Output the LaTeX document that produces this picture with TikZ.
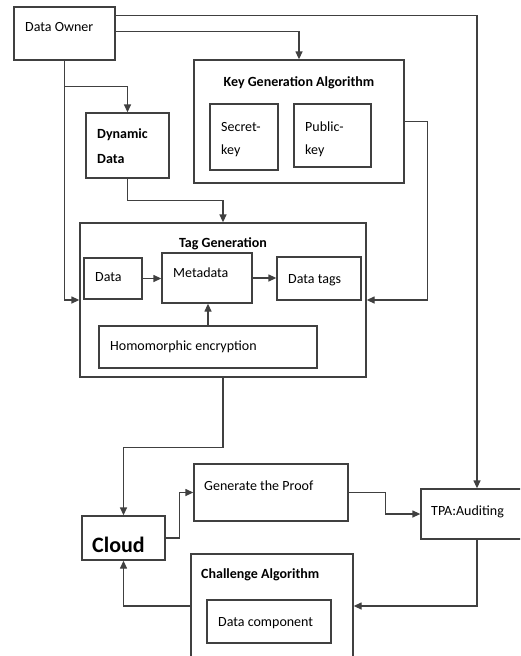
\documentclass[tikz,border=0pt]{standalone}
\usepackage{fontspec}
\setmainfont{Carlito}
\usetikzlibrary{arrows.meta,fit}

\begin{document}
\begin{tikzpicture}[x=1pt, y=-1pt,
    box/.style={draw=black!75, line width=1.3pt, rectangle, inner sep=0pt},
    txt/.style={inner sep=0pt, anchor=base west, font=\fontsize{14}{23}\selectfont},
    ttl/.style={txt, font=\fontsize{14}{25}\selectfont\bfseries},
    flow/.style={draw=black!75, line width=1.3pt, -{Triangle[length=8pt,width=7pt]}}]
    \useasboundingbox (0,0) rectangle (520,656);
    \clip (0,0) rectangle (520,656);
    % boxes
    \node[box, fit={(14,7) (115,60)}] (owner) {};
    \node[box, fit={(194,60) (404,183)}] (keygen) {};
    \node[box, fit={(210,104) (278,170)}] (secret) {};
    \node[box, fit={(294,104) (371,167)}] (public) {};
    \node[box, fit={(86,113) (169,178)}] (dyn) {};
    \node[box, fit={(80,223) (366,377)}] (tag) {};
    \node[box, fit={(84,258) (142,299)}] (data) {};
    \node[box, fit={(162,253) (252,303)}] (meta) {};
    \node[box, fit={(277,257) (361,300)}] (tags) {};
    \node[box, fit={(99,326) (317,368)}] (homo) {};
    \node[box, fit={(82,516) (165,560)}] (cloud) {};
    \node[box, fit={(194,464) (348,521)}] (proof) {};
    \node[box, fit={(421,489) (533,539)}] (tpa) {};
    \node[box, fit={(191,554) (353,658)}] (chal) {};
    \node[box, fit={(207,600) (331,643)}] (comp) {};
    % texts
    \node[txt] (ownerT) at (25,31) {Data Owner};
    \node[ttl, anchor=base] (keygenT) at (299,86) {Key Generation Algorithm};
    \node[txt, anchor=north west, align=left] (secretT) at (221,122) {Secret-\\key};
    \node[txt, anchor=north west, align=left] (publicT) at (305,122) {Public-\\key};
    \node[ttl, anchor=north west, align=left] (dynT) at (97,128) {Dynamic\\Data};
    \node[ttl, anchor=base] (tagT) at (223,247) {Tag Generation};
    \node[txt] (dataT) at (95,281) {Data};
    \node[txt] (metaT) at (173,277) {Metadata};
    \node[txt] (tagsT) at (288,283) {Data tags};
    \node[txt] (homoT) at (110,350) {Homomorphic encryption};
    \node[txt, font=\fontsize{22}{26}\selectfont\bfseries] (cloudT) at (92,552) {Cloud};
    \node[txt] (proofT) at (204,490) {Generate the Proof};
    \node[txt] (tpaT) at (431,515) {TPA:Auditing};
    \node[ttl] (chalT) at (201,578) {Challenge Algorithm};
    \node[txt] (compT) at (218,626) {Data component};
    % connectors
    \coordinate (split) at ([yshift=-26pt]owner.south);
    \draw[flow] ([yshift=-9pt]owner.north east) -| (tpa.north);
    \draw[flow] ([yshift=-25pt]owner.north east) -| (keygen.north);
    \draw[flow] (owner.south) |- (tag.west);
    \draw[flow] (split) -| (dyn.north);
    \draw[flow] (dyn.south) -- ++(0,22) -| (tag.north);
    \draw[flow] (keygen.east) -- ++(23,0) |- (tag.east);
    \draw[flow] (data.east) -- (data.east -| meta.west);
    \draw[flow] (meta.east) -- (meta.east -| tags.west);
    \draw[flow] (homo.north) -- (homo.north |- meta.south);
    \draw[flow] (tag.south) -- ++(0,70) -| (cloud.north);
    \draw[flow] (cloud.east) -- ++(14,0) |- (proof.west);
    \draw[flow] (proof.east) -- ++(37,0) |- (tpa.west);
    \draw[flow] (tpa.south) |- (chal.east);
    \draw[flow] (chal.west) -| (cloud.south);
\end{tikzpicture}
\end{document}
